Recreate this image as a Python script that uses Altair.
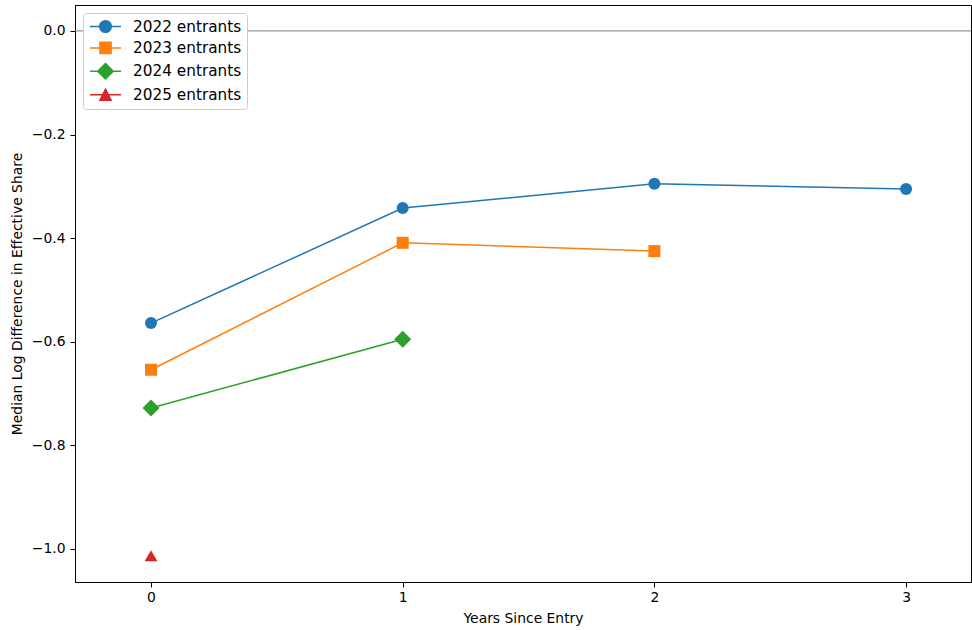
import altair as alt
import pandas as pd

series = ["2022 entrants", "2023 entrants", "2024 entrants", "2025 entrants"]
colors = ["#1f77b4", "#ff7f0e", "#2ca02c", "#d62728"]
shapes = ["circle", "square", "diamond", "triangle-up"]
marker_sizes = [144, 144, 289, 165]

x_2022 = [0, 1, 2, 3]
y_2022 = [-0.564, -0.342, -0.295, -0.305]
x_2023 = [0, 1, 2]
y_2023 = [-0.654, -0.409, -0.425]
x_2024 = [0, 1]
y_2024 = [-0.728, -0.595]
x_2025 = [0]
y_2025 = [-1.013]

x_ticks = [0, 1, 2, 3]
y_ticks = [0.0, -0.2, -0.4, -0.6, -0.8, -1.0]

rows = []
for name, xs, ys in zip(series, [x_2022, x_2023, x_2024, x_2025], [y_2022, y_2023, y_2024, y_2025]):
    for xv, yv in zip(xs, ys):
        rows.append({"series": name, "x": xv, "y": yv})
df = pd.DataFrame(rows)
zero_df = pd.DataFrame({"y": [0.0]})

xscale = alt.Scale(domain=[-0.302, 3.258], nice=False, zero=False)
yscale = alt.Scale(domain=[-1.0637, 0.050], nice=False, zero=False)
color_scale = alt.Scale(domain=series, range=colors)

x_enc = alt.X("x:Q", scale=xscale, title="Years Since Entry",
              axis=alt.Axis(values=x_ticks, format="d", labelPadding=3, titlePadding=8))
y_enc = alt.Y("y:Q", scale=yscale, title="Median Log Difference in Effective Share",
              axis=alt.Axis(values=y_ticks,
                            labelExpr="replace(format(datum.value, '.1f'), '-', '\u2212')",
                            labelPadding=5, titlePadding=7))

zero = alt.Chart(zero_df).mark_rule(color="#808080", strokeWidth=1).encode(
    y=alt.Y("y:Q", scale=yscale)
)

series_layers = []
for name, col, shp, sz in zip(series, colors, shapes, marker_sizes):
    base = alt.Chart(df).transform_filter(alt.datum.series == name)
    series_layers.append(base.mark_line(strokeWidth=1.5, color=col).encode(x=x_enc, y=y_enc))
    series_layers.append(
        base.mark_point(filled=True, shape=shp, size=sz, opacity=1, color=col)
        .encode(x=x_enc, y=y_enc)
    )

# legend glyphs: line segment with the marker in the middle (unit = sqrt(size)/2 px)
line_part = "M-2,0H2"
legend_paths = [
    line_part + "M0.75,0A0.75,0.75,0,1,1,-0.75,0A0.75,0.75,0,1,1,0.75,0Z",
    line_part + "M-0.72,-0.72H0.72V0.72H-0.72Z",
    line_part + "M-1.0,0L0,-1.0L1.0,0L0,1.0Z",
    line_part + "M0,-0.72L0.72,0.72L-0.72,0.72Z",
]
legend_props = dict(orient="none", legendX=8, legendY=8,
                    symbolOffset=9, labelOffset=19, symbolStrokeWidth=1.5,
                    symbolOpacity=1)
legend_layer = alt.Chart(df).mark_point(
    filled=True, strokeWidth=1.5, size=240, opacity=0
).encode(
    x=x_enc, y=y_enc,
    fill=alt.Fill("series:N", scale=color_scale, title="", legend=alt.Legend(**legend_props)),
    stroke=alt.Stroke("series:N", scale=color_scale, title="", legend=alt.Legend(**legend_props)),
    shape=alt.Shape("series:N", scale=alt.Scale(domain=series, range=legend_paths), title="",
                    legend=alt.Legend(**legend_props)),
)

chart = alt.layer(zero, *series_layers, legend_layer).properties(
    width=896, height=577,
    autosize=alt.AutoSizeParams(type="none"),
    padding={"left": 75, "top": 5, "right": 1, "bottom": 48},
).configure_view(
    stroke="black", strokeWidth=1
).configure_axis(
    grid=False, domainColor="black", tickColor="black", tickSize=5,
    labelFont="DejaVu Sans", labelFontSize=13.9, labelColor="black",
    titleFont="DejaVu Sans", titleFontSize=13.9, titleFontWeight="normal", titleColor="black",
).configure_legend(
    labelFont="DejaVu Sans", labelFontSize=15.3, labelColor="black",
    strokeColor="#cccccc", fillColor="white", cornerRadius=3,
    padding=5, rowPadding=2.4, symbolSize=240,
)

chart.save("out.html", embed_options={"renderer": "svg", "actions": False})
